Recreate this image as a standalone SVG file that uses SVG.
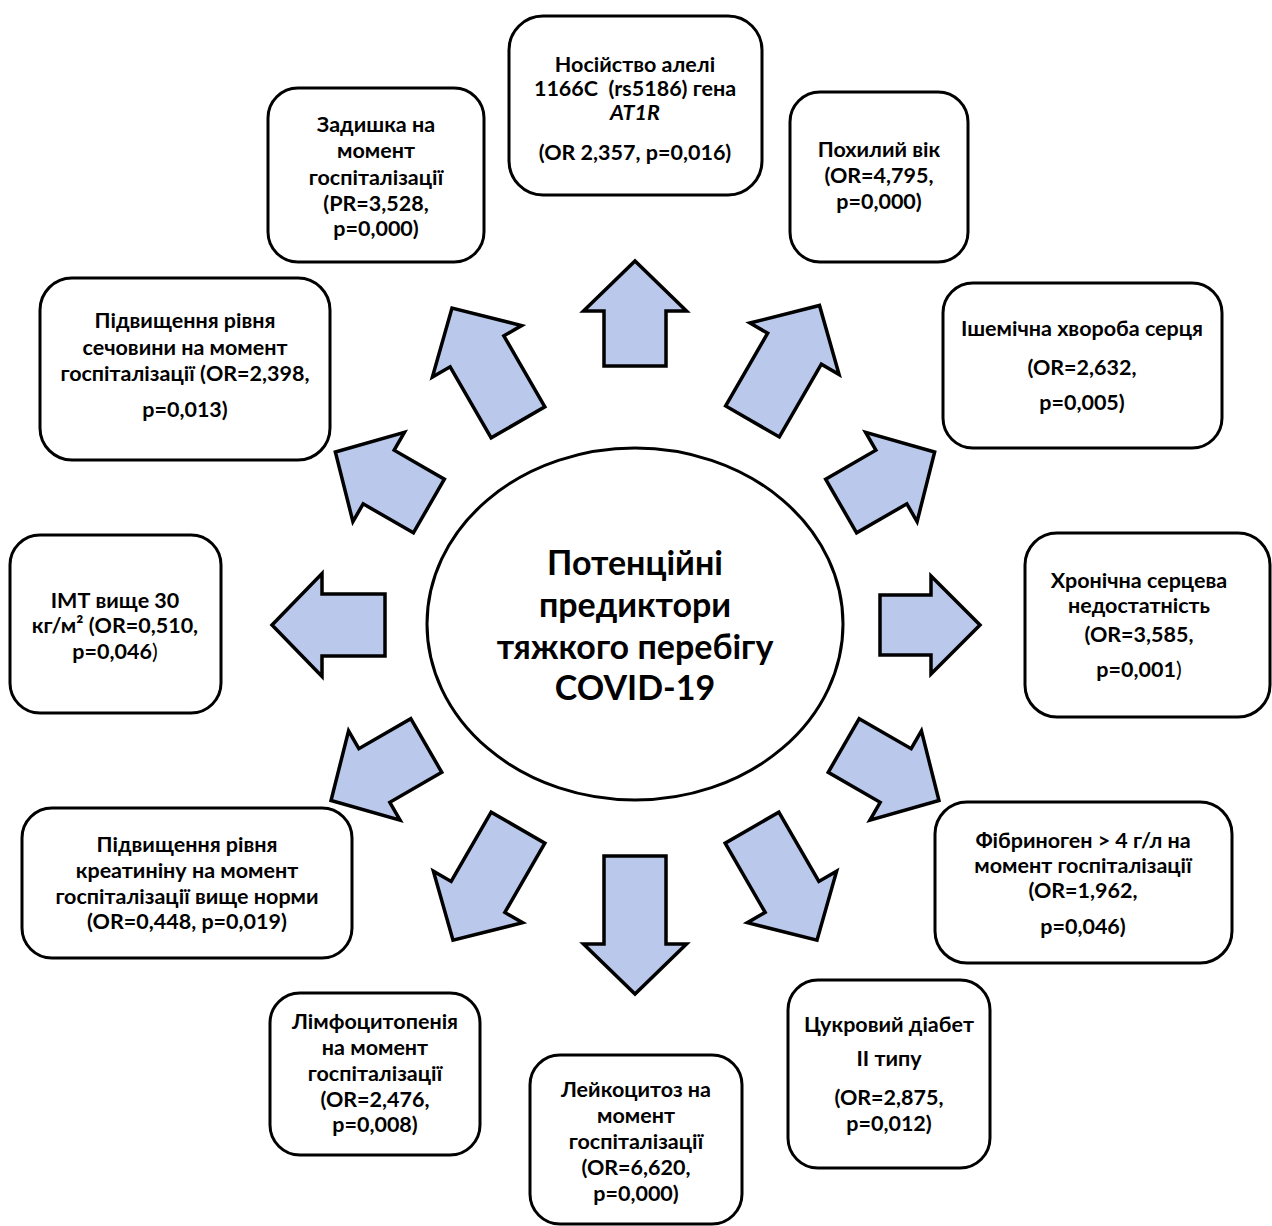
<svg xmlns="http://www.w3.org/2000/svg" width="1272" height="1226" viewBox="0 0 1272 1226">
<style>
.box{fill:#fff;stroke:#000;stroke-width:3}
.arr{fill:#BAC8EB;stroke:#000;stroke-width:3.5;stroke-linejoin:miter}
text{font-family:Lato,"Open Sans","Liberation Sans",sans-serif;font-weight:bold;font-size:21.5px;fill:#000;text-anchor:middle}
.c{font-size:34px}
.n{font-weight:normal}
</style>
<rect width="1272" height="1226" fill="#fff"/>
<g id="connectors" transform="translate(635,625)">
<polygon class="arr" transform="rotate(-90)" points="259,-31 314,-31 314,-51.5 364,0 314,51.5 314,31 259,31"/>
<polygon class="arr" transform="rotate(-60)" points="235,-31 319,-31 319,-51.5 369,0 319,51.5 319,31 235,31"/>
<polygon class="arr" transform="rotate(-30)" points="238,-31 296,-31 296,-51.5 346,0 296,51.5 296,31 238,31"/>
<polygon class="arr" transform="rotate(0)" points="245,-30 296,-30 296,-49 345,0 296,49 296,30 245,30"/>
<polygon class="arr" transform="rotate(30)" points="241,-31 301,-31 301,-51.5 351,0 301,51.5 301,31 241,31"/>
<polygon class="arr" transform="rotate(60)" points="234,-31 314,-31 314,-51.5 364,0 314,51.5 314,31 234,31"/>
<polygon class="arr" transform="rotate(90)" points="231,-31 319,-31 319,-51.5 369,0 319,51.5 319,31 231,31"/>
<polygon class="arr" transform="rotate(120)" points="234,-31 314,-31 314,-51.5 364,0 314,51.5 314,31 234,31"/>
<polygon class="arr" transform="rotate(150)" points="241,-31 301,-31 301,-51.5 351,0 301,51.5 301,31 241,31"/>
<polygon class="arr" transform="rotate(180)" points="250,-31 313,-31 313,-51.5 363,0 313,51.5 313,31 250,31"/>
<polygon class="arr" transform="rotate(-150)" points="238,-31 296,-31 296,-51.5 346,0 296,51.5 296,31 238,31"/>
<polygon class="arr" transform="rotate(-120)" points="234,-31 316,-31 316,-51.5 366,0 316,51.5 316,31 234,31"/>
</g>
<g id="center">
<ellipse cx="635" cy="624" rx="208" ry="176" fill="#fff" stroke="#000" stroke-width="3"/>
<text class="c" x="635" y="575">Потенційні</text>
<text class="c" x="635" y="617">предиктори</text>
<text class="c" x="635" y="659">тяжкого перебігу</text>
<text class="c" x="635" y="700">COVID-19</text>
</g>
<g id="n1">
<rect class="box" x="509" y="16" width="253" height="179" rx="34"/>
<text x="635" y="72">Носійство алелі</text>
<text x="635" y="96" style="white-space:pre">1166C  (rs5186) гена</text>
<text x="635" y="120" font-style="italic">AT1R</text>
<text x="635" y="160">(OR 2,357, p=0,016)</text>
</g>
<g id="n2">
<rect class="box" x="790" y="92" width="178" height="170" rx="30"/>
<text x="879" y="157">Похилий вік</text>
<text x="879" y="183">(OR=4,795,</text>
<text x="879" y="209">p=0,000)</text>
</g>
<g id="n3">
<rect class="box" x="268" y="88" width="216" height="174" rx="30"/>
<text x="376" y="132">Задишка на</text>
<text x="376" y="158">момент</text>
<text x="376" y="185">госпіталізації</text>
<text x="376" y="211">(PR=3,528,</text>
<text x="376" y="236">p=0,000)</text>
</g>
<g id="n4">
<rect class="box" x="943" y="283" width="279" height="165" rx="30"/>
<text x="1082" y="336">Ішемічна хвороба серця</text>
<text x="1082" y="375">(OR=2,632,</text>
<text x="1082" y="410">p=0,005)</text>
</g>
<g id="n5">
<rect class="box" x="40" y="278" width="290" height="182" rx="32"/>
<text x="185" y="328">Підвищення рівня</text>
<text x="185" y="355">сечовини на момент</text>
<text x="185" y="381">госпіталізації (OR=2,398,</text>
<text x="185" y="417">p=0,013)</text>
</g>
<g id="n6">
<rect class="box" x="10" y="535" width="211" height="178" rx="30"/>
<text x="115" y="608">ІМТ вище 30</text>
<text x="115" y="633">кг/м² (OR=0,510,</text>
<text x="115" y="659">p=0,046<tspan class="n">)</tspan></text>
</g>
<g id="n7">
<rect class="box" x="1025" y="533" width="245" height="184" rx="32"/>
<text x="1139" y="588">Хронічна серцева</text>
<text x="1139" y="613">недостатність</text>
<text x="1139" y="642">(OR=3,585,</text>
<text x="1139" y="677">p=0,001<tspan class="n">)</tspan></text>
</g>
<g id="n8">
<rect class="box" x="22" y="808" width="330" height="150" rx="30"/>
<text x="187" y="852">Підвищення рівня</text>
<text x="187" y="878">креатиніну на момент</text>
<text x="187" y="904">госпіталізації вище норми</text>
<text x="187" y="929">(OR=0,448, p=0,019)</text>
</g>
<g id="n9">
<rect class="box" x="935" y="802" width="297" height="161" rx="32"/>
<text x="1083" y="848">Фібриноген &gt; 4 г/л на</text>
<text x="1083" y="873">момент госпіталізації</text>
<text x="1083" y="898">(OR=1,962,</text>
<text x="1083" y="934">p=0,046)</text>
</g>
<g id="n10">
<rect class="box" x="270" y="993" width="210" height="162" rx="30"/>
<text x="375" y="1029">Лімфоцитопенія</text>
<text x="375" y="1055">на момент</text>
<text x="375" y="1081">госпіталізації</text>
<text x="375" y="1107">(OR=2,476,</text>
<text x="375" y="1132">p=0,008)</text>
</g>
<g id="n11">
<rect class="box" x="788" y="980" width="202" height="188" rx="30"/>
<text x="889" y="1032">Цукровий діабет</text>
<text x="889" y="1066">ІІ типу</text>
<text x="889" y="1105">(OR=2,875,</text>
<text x="889" y="1131">p=0,012)</text>
</g>
<g id="n12">
<rect class="box" x="530" y="1055" width="212" height="169" rx="30"/>
<text x="636" y="1097">Лейкоцитоз на</text>
<text x="636" y="1123">момент</text>
<text x="636" y="1149">госпіталізації</text>
<text x="636" y="1175">(OR=6,620,</text>
<text x="636" y="1201">p=0,000)</text>
</g>
</svg>
